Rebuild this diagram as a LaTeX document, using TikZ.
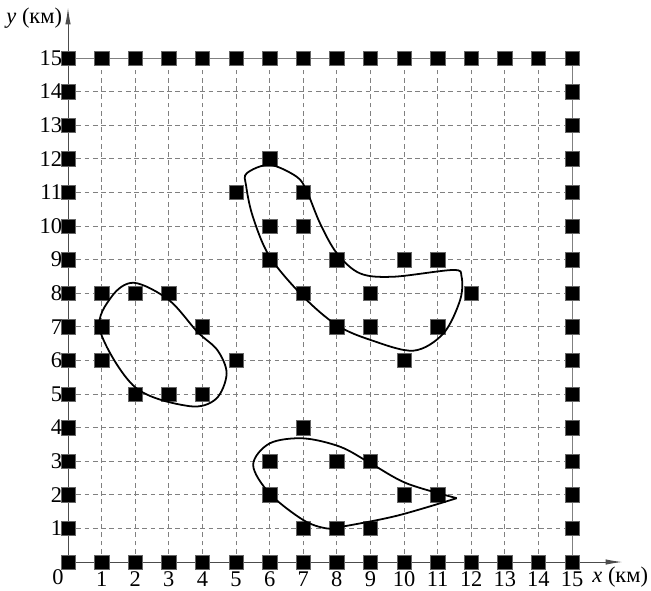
\documentclass[tikz,border=0pt]{standalone}
\usepackage{fontspec}
\setmainfont{Liberation Serif}
\usetikzlibrary{arrows.meta}
\begin{document}
\begin{tikzpicture}[
  gridline/.style={draw=gray, dashed, line width=0.6pt, dash pattern=on 4pt off 3pt},
  frameline/.style={draw=gray, line width=0.8pt},
  axisline/.style={draw=black!70, line width=0.8pt, -{Latex[length=5mm,width=1.6mm]}},
  pt/.style={fill=black, draw=black!60, line width=0.3pt, minimum size=0.43cm, inner sep=0pt, rectangle},
  zone/.style={draw=black, line width=1.5pt},
  lab/.style={font=\fontsize{19}{21}\selectfont, inner sep=0pt}
]
\useasboundingbox (-2.024,-0.833) rectangle (17.35,16.726);
% grid
\foreach \i in {1,...,14} {
  \draw[gridline] (\i,0) -- (\i,15);
  \draw[gridline] (0,\i) -- (15,\i);
}
\draw[frameline] (0,15) -- (15,15) -- (15,0);
\draw[axisline] (0,0) -- (0,16.5);
\draw[axisline] (0,0) -- (16.5,0);
% border points
\foreach \i in {0,...,15} {
  \node[pt] (b-\i-0) at (\i,0) {};
  \node[pt] (b-\i-15) at (\i,15) {};
  \node[pt] (b-0-\i) at (0,\i) {};
  \node[pt] (b-15-\i) at (15,\i) {};
}
% interior points
\foreach \x/\y in {1/8,2/8,3/8,1/7,4/7,1/6,5/6,2/5,3/5,4/5,
  6/12,5/11,7/11,6/10,7/10,6/9,8/9,10/9,11/9,7/8,9/8,12/8,8/7,9/7,11/7,10/6,
  7/4,6/3,8/3,9/3,6/2,10/2,11/2,7/1,8/1,9/1} {
  \node[pt] (p-\x-\y) at (\x,\y) {};
}
% zones
\draw[zone] plot[smooth cycle, tension=0.55] coordinates {
  (1.96,8.31) (3.0,7.8) (3.85,6.85) (4.45,6.3) (4.72,5.6) (4.4,4.85) (3.6,4.64)
  (2.0,5.2) (0.95,6.9) (1.3,7.9)};
\draw[zone] plot[smooth cycle, tension=0.55] coordinates {
  (5.32,11.57) (6.0,11.82) (6.8,11.47) (7.1,11.05) (7.5,10.08) (8.0,9.19)
  (8.69,8.59) (9.68,8.49) (11.45,8.69) (11.71,8.5) (11.67,7.8) (11.17,6.8)
  (10.28,6.29) (9.0,6.61) (8.0,7.05) (7.0,7.9) (6.0,9.09) (5.5,10.28) (5.3,11.2)};
\draw[zone] plot[smooth, tension=0.55] coordinates {
  (11.57,1.9) (10.08,2.34) (9.0,2.94) (8.1,3.43) (7.0,3.68) (6.0,3.53) (5.51,2.89)
  (6.0,2.04) (7.0,1.25) (7.7,1.0) (8.2,1.06) (9.8,1.38) (11.57,1.9)};
% tick labels
\foreach \i in {1,...,15} {
  \node[lab, anchor=base] (xl-\i) at (\i,-0.74) {\i};
  \node[lab, anchor=east] (yl-\i) at (-0.17,\i) {\i};
}
\node[lab] (o) at (-0.3,-0.44) {0};
\node[lab, anchor=west] (xlab) at (15.6,-0.46) {\textit{x} (км)};
\node[lab, anchor=east] (ylab) at (-0.17,16.2) {\textit{y} (км)};
\end{tikzpicture}
\end{document}
